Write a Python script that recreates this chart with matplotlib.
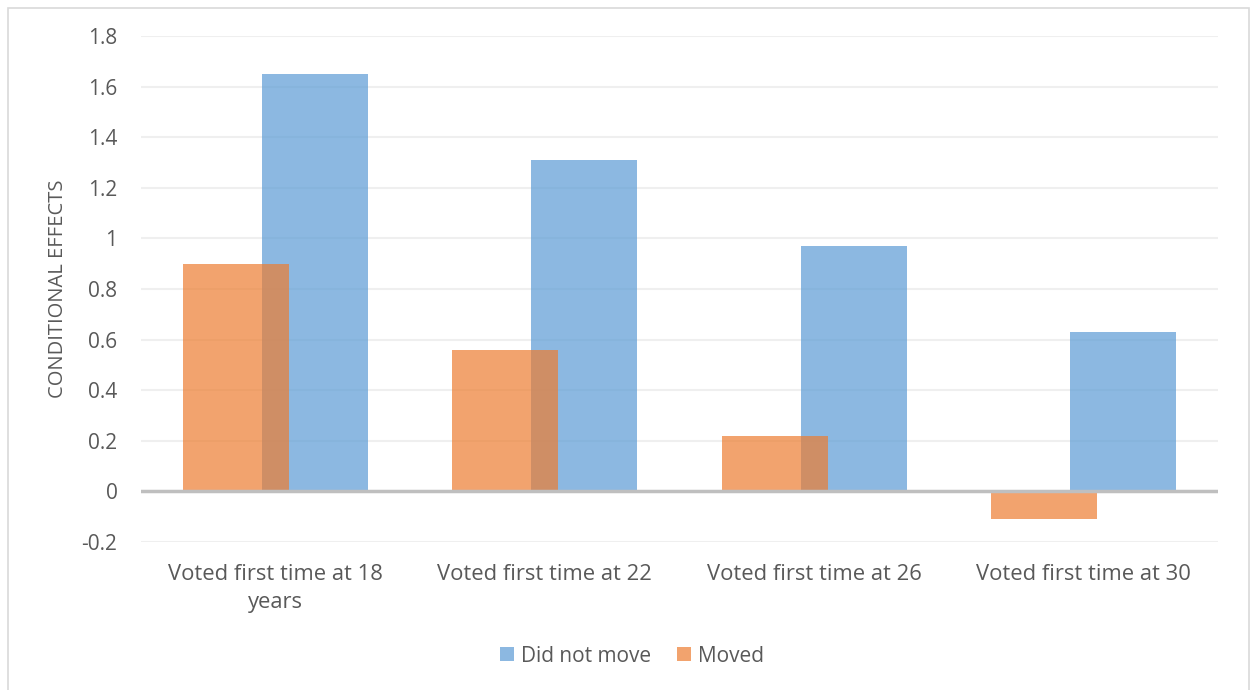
import numpy as np
import matplotlib.pyplot as plt
from matplotlib.patches import Rectangle, Patch

# datos
categorias = ["Voted first time at 18\nyears", "Voted first time at 22",
              "Voted first time at 26", "Voted first time at 30"]
no_movio = [1.65, 1.31, 0.97, 0.63]
movio = [0.90, 0.56, 0.22, -0.11]
ticks_y = [-0.2, 0, 0.2, 0.4, 0.6, 0.8, 1, 1.2, 1.4, 1.6, 1.8]

plt.rcParams['font.family'] = ['Open Sans', 'DejaVu Sans']
gris = '#595959'
azul = '#5B9BD5'
naranja = '#ED7D31'

fig = plt.figure(figsize=(12.52, 6.9), dpi=100, facecolor='w')
ax = fig.add_axes([141/1252, 1-542/690, (1218-141)/1252, (542-36)/690])

x = np.arange(len(categorias))
ancho = 0.394
desp = 0.147
ax.bar(x + desp, no_movio, ancho, color=azul, alpha=0.7, zorder=2, label='Did not move')
ax.bar(x - desp, movio, ancho, color=naranja, alpha=0.7, zorder=3, label='Moved')

ax.set_xlim(-0.5, len(categorias) - 0.5)
ax.set_ylim(-0.2, 1.8)
ax.set_yticks(ticks_y)
ax.set_yticklabels(['%g' % t for t in ticks_y], fontsize=15)
ax.set_xticks(x)
ax.set_xticklabels(categorias, linespacing=1.45, fontsize=15.8)
ax.tick_params(axis='both', length=0, colors=gris)
ax.tick_params(axis='y', pad=17)
ax.tick_params(axis='x', pad=16)
for s in ax.spines.values():
    s.set_visible(False)
ax.grid(axis='y', color='#EFEFEF', linewidth=1.5, zorder=0)
ax.set_axisbelow(True)
ax.axhline(0, color='#BFBFBF', linewidth=2.5, zorder=4)
fig.text(58/1252, 1-289/690, 'CONDITIONAL EFFECTS', color=gris, fontsize=14.5,
         rotation=90, ha='center', va='center')

# leyenda
manejadores = [Patch(facecolor=azul, alpha=0.7), Patch(facecolor=naranja, alpha=0.7)]
fig.legend(manejadores, ['Did not move', 'Moved'], loc='center',
           bbox_to_anchor=(632/1252, 1-656/690), ncol=2, frameon=False,
           fontsize=15, labelcolor=gris, handlelength=0.67, handleheight=0.67,
           handletextpad=0.34, columnspacing=1.2)

# borde del grafico
fig.patches.append(Rectangle((8/1252, -0.01), (1249-8)/1252, 1-8/690+0.01,
                             transform=fig.transFigure, fill=False,
                             edgecolor='#D9D9D9', linewidth=1.2))

fig.savefig('out.png', dpi=100, facecolor='w')
